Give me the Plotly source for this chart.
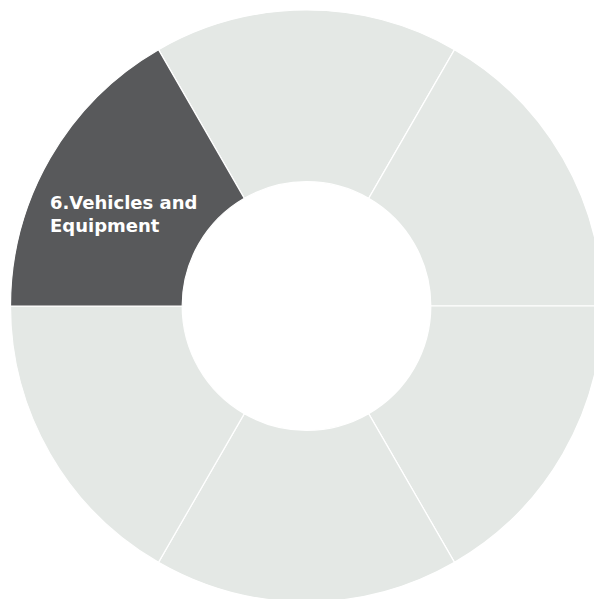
import plotly.graph_objects as go

# Data
categories = ["1", "2", "3", "4", "5", "6.Vehicles and Equipment"]
values = [1, 1, 1, 1, 1, 1]
label_lines = {"6.Vehicles and Equipment": "6.Vehicles and<br>Equipment"}
highlight = "6.Vehicles and Equipment"

DARK = "#58595b"
LIGHT = "#e4e8e5"
colors = [DARK if c == highlight else LIGHT for c in categories]

W, H = 613, 612
M = 10

fig = go.Figure(
    go.Pie(
        labels=categories,
        values=values,
        textinfo="none",
        hole=0.42,
        sort=False,
        direction="clockwise",
        rotation=-30,
        marker=dict(colors=colors, line=dict(color="white", width=1.2)),
        hoverinfo="none",
        showlegend=False,
    )
)

# Left-aligned label for the highlighted slice
fig.add_annotation(
    text=label_lines[highlight],
    xref="paper", yref="paper",
    x=(48 - M) / (W - 2 * M), y=1 - (214 - M) / (H - 2 * M),
    xanchor="left", yanchor="middle",
    align="left",
    showarrow=False,
    font=dict(family="DejaVu Sans", size=18, color="white", weight="bold"),
)

fig.update_layout(
    width=W,
    height=H,
    margin=dict(l=M, r=M, t=M, b=M),
    paper_bgcolor="white",
    plot_bgcolor="white",
)

fig.write_html(
    "out.html",
    config={"displayModeBar": False},
    post_script=(
        "document.body.style.margin='0';"
        "document.body.style.overflow='hidden';"
        "document.documentElement.style.overflow='hidden';"
    ),
)
